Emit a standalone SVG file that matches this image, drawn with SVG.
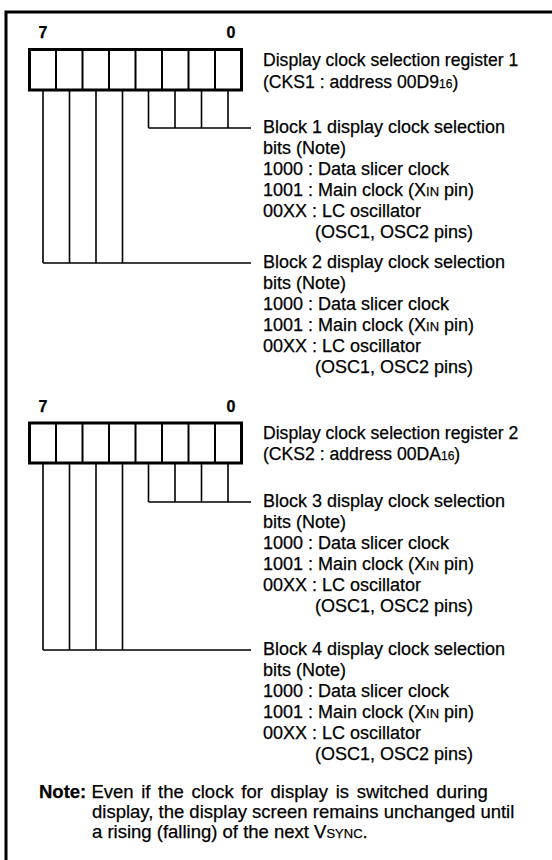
<svg xmlns="http://www.w3.org/2000/svg" width="552" height="860" viewBox="0 0 552 860">
<style>
  text { font-family: "Liberation Sans", Arial, sans-serif; font-size: 18px; fill: #000; stroke: #000; stroke-width: 0.25; }
  .reg-t { font-size: 17.6px; }
  .note-t { font-size: 18.5px; }
  .bit { font-weight: bold; font-size: 16px; }
  .sc { font-size: 13px; }
  .sub { font-size: 12px; }
  .frame { stroke: #000; stroke-width: 3; fill: none; }
  .reg { stroke: #000; stroke-width: 3; fill: #fff; }
  .div { stroke: #000; stroke-width: 2; }
  .ln { stroke: #000; stroke-width: 1.6; fill: none; }
</style>
<rect width="552" height="860" fill="#fff"/>
<path class="frame" d="M6 860 V12 H552"/>

<g id="register1">
  <text class="bit" x="43" y="38" text-anchor="middle">7</text>
  <text class="bit" x="231" y="38" text-anchor="middle">0</text>
  <rect class="reg" x="29.5" y="49.5" width="212" height="40.5"/>
  <path class="div" d="M56 49.5V90 M82.5 49.5V90 M109 49.5V90 M135.5 49.5V90 M162 49.5V90 M188.5 49.5V90 M215 49.5V90"/>
  <text class="reg-t" x="263" y="66">Display clock selection register 1</text>
  <text class="reg-t" x="263" y="88">(CKS1 : address 00D9<tspan class="sub">16</tspan>)</text>
</g>

<g id="block1">
  <text x="263" y="133">Block 1 display clock selection</text>
  <text x="263" y="154">bits (Note)</text>
  <text x="263" y="175">1000 : Data slicer clock</text>
  <text x="263" y="196">1001 : Main clock (X<tspan class="sc">IN</tspan> pin)</text>
  <text x="263" y="217">00XX : LC oscillator</text>
  <text x="315" y="238">(OSC1, OSC2 pins)</text>
</g>

<g id="block2">
  <text x="263" y="268">Block 2 display clock selection</text>
  <text x="263" y="289">bits (Note)</text>
  <text x="263" y="310">1000 : Data slicer clock</text>
  <text x="263" y="331">1001 : Main clock (X<tspan class="sc">IN</tspan> pin)</text>
  <text x="263" y="352">00XX : LC oscillator</text>
  <text x="315" y="373">(OSC1, OSC2 pins)</text>
</g>

<g id="register2">
  <text class="bit" x="43" y="412" text-anchor="middle">7</text>
  <text class="bit" x="231" y="412" text-anchor="middle">0</text>
  <rect class="reg" x="29.5" y="423" width="212" height="40"/>
  <path class="div" d="M56 423V463 M82.5 423V463 M109 423V463 M135.5 423V463 M162 423V463 M188.5 423V463 M215 423V463"/>
  <text class="reg-t" x="263" y="439">Display clock selection register 2</text>
  <text class="reg-t" x="263" y="460">(CKS2 : address 00DA<tspan class="sub">16</tspan>)</text>
</g>

<g id="block3">
  <text x="263" y="507">Block 3 display clock selection</text>
  <text x="263" y="528">bits (Note)</text>
  <text x="263" y="549">1000 : Data slicer clock</text>
  <text x="263" y="570">1001 : Main clock (X<tspan class="sc">IN</tspan> pin)</text>
  <text x="263" y="591">00XX : LC oscillator</text>
  <text x="315" y="612">(OSC1, OSC2 pins)</text>
</g>

<g id="block4">
  <text x="263" y="655">Block 4 display clock selection</text>
  <text x="263" y="676">bits (Note)</text>
  <text x="263" y="697">1000 : Data slicer clock</text>
  <text x="263" y="718">1001 : Main clock (X<tspan class="sc">IN</tspan> pin)</text>
  <text x="263" y="739">00XX : LC oscillator</text>
  <text x="315" y="760">(OSC1, OSC2 pins)</text>
</g>

<g id="note">
  <text class="note-t" x="39" y="798"><tspan font-weight="bold">Note:</tspan> <tspan word-spacing="2.5">Even if the clock for display is switched during</tspan></text>
  <text class="note-t" x="92" y="818">display, the display screen remains unchanged until</text>
  <text class="note-t" x="92" y="838">a rising (falling) of the next V<tspan class="sc">SYNC</tspan>.</text>
</g>

<g id="connectors">
  <path class="ln" d="M43 90V263 M69.5 90V263 M96 90V263 M122.5 90V263 M43 263H251"/>
  <path class="ln" d="M148.5 90V128 M175 90V128 M201.5 90V128 M228 90V128 M148.5 128H251"/>
  <path class="ln" d="M43 463V650 M69.5 463V650 M96 463V650 M122.5 463V650 M43 650H251"/>
  <path class="ln" d="M148.5 463V502 M175 463V502 M201.5 463V502 M228 463V502 M148.5 502H251"/>
</g>
</svg>
